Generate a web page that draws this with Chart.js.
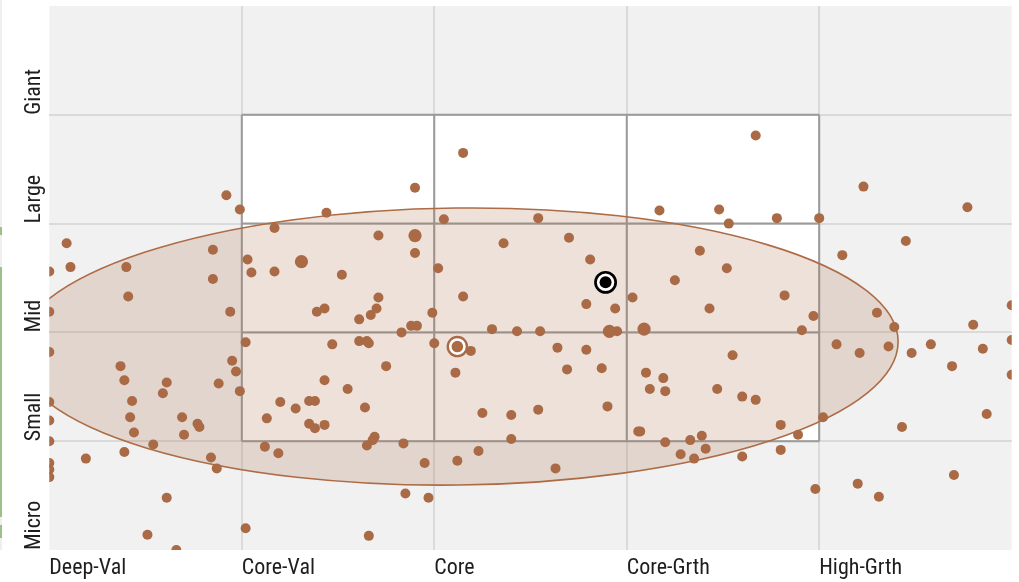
<!DOCTYPE html>
<html lang="en">
<head>
<meta charset="UTF-8">
<title>Ownership Zone</title>
<style>
  html, body { margin: 0; padding: 0; background: #fff; }
  #wrap { position: relative; width: 1019px; height: 582px; }
  .strip { position: absolute; left: 0; width: 2px; }
</style>
</head>
<body>
<div id="wrap">
  <canvas id="zone" width="1019" height="582"></canvas>
  <div class="strip" style="top:0;height:550px;background:#efefef"></div>
  <div class="strip" style="top:227px;height:8px;background:#9dc088"></div>
  <div class="strip" style="top:267px;height:250px;background:#9dc088"></div>
  <div class="strip" style="top:525px;height:13px;background:#9dc088"></div>
</div>

<script src="https://cdn.jsdelivr.net/npm/chart.js"></script>
<script>
// style (x) and size (y) bands, one unit per band
const styleLabels = ['Deep-Val', 'Core-Val', 'Core', 'Core-Grth', 'High-Grth'];
const sizeLabels = ['Micro', 'Small', 'Mid', 'Large', 'Giant'];

// holdings, [style, size]
const holdings = [
  [0.00,2.56],[0.09,2.82],[0.11,2.60],[0.40,2.60],[0.41,2.33],[0.85,2.76],[0.85,2.49],[0.92,3.26],
  [0.99,3.13],[0.00,2.19],[0.94,2.19],[0.00,1.82],[1.02,1.91],[0.37,1.69],[0.39,1.56],[0.61,1.54],
  [0.59,1.44],[0.95,1.74],[0.97,1.64],[0.88,1.53],[0.99,1.46],[0.00,1.36],[0.43,1.37],[0.42,1.22],
  [0.00,1.19],[0.69,1.22],[0.77,1.16],[0.78,1.13],[0.44,1.08],[0.70,1.06],[0.00,1.00],[0.54,0.97],
  [0.39,0.90],[0.19,0.84],[0.00,0.80],[0.00,0.74],[0.00,0.67],[0.84,0.85],[0.87,0.75],[0.61,0.48],
  [0.51,0.14],[0.66,0.00],[1.02,0.20],
  [1.17,2.96],[1.44,3.10],[1.90,3.33],[1.71,2.89],[1.90,2.73],[1.03,2.67],[1.05,2.55],[1.17,2.56],
  [1.52,2.53],[1.71,2.32],[1.39,2.19],[1.43,2.22],[1.61,2.12],[1.67,2.16],[1.70,2.22],[1.99,2.18],
  [1.83,2.00],[1.88,2.06],[1.91,2.06],[2.00,1.90],[1.61,1.92],[1.65,1.92],[1.66,1.90],[1.47,1.89],
  [1.75,1.69],[1.43,1.56],[1.55,1.48],[1.20,1.36],[1.28,1.30],[1.35,1.37],[1.38,1.37],[1.13,1.21],
  [1.64,1.31],[1.35,1.16],[1.38,1.12],[1.43,1.15],[1.69,1.04],[1.68,1.01],[1.65,0.96],[1.84,0.98],
  [1.12,0.95],[1.19,0.89],[1.95,0.80],[1.85,0.52],[1.97,0.48],[1.66,0.13],
  [2.15,3.65],[2.05,3.04],[2.54,3.05],[2.36,2.82],[2.70,2.87],[2.81,2.67],[2.02,2.59],[2.15,2.33],
  [2.79,2.26],[2.94,2.22],[2.30,2.03],[2.43,2.01],[2.55,2.01],[2.95,2.01],[2.19,1.83],[2.11,1.63],
  [2.64,1.86],[2.79,1.84],[2.69,1.66],[2.87,1.67],[2.90,1.32],[2.25,1.26],[2.40,1.24],[2.54,1.29],
  [2.40,1.02],[2.23,0.91],[2.12,0.82],[2.63,0.75],
  [3.67,3.81],[3.17,3.12],[3.48,3.13],[3.53,3.00],[3.78,3.05],[4.00,3.05],[3.38,2.75],[3.52,2.59],
  [3.25,2.48],[3.82,2.34],[3.03,2.32],[3.43,2.22],[3.97,2.15],[3.91,2.02],[3.55,1.79],[3.10,1.63],
  [3.19,1.58],[3.12,1.48],[3.20,1.46],[3.47,1.48],[3.60,1.41],[3.67,1.38],[3.80,1.15],[3.89,1.06],
  [3.06,1.09],[3.07,1.09],[3.20,0.99],[3.33,1.01],[3.39,1.05],[3.41,0.93],[3.28,0.88],[3.35,0.84],
  [3.60,0.86],[3.80,0.92],
  [4.23,3.34],[4.77,3.15],[4.45,2.84],[4.12,2.71],[4.30,2.18],[4.39,2.05],[4.09,1.89],[4.21,1.81],
  [4.36,1.87],[4.48,1.81],[4.58,1.89],[4.80,2.07],[4.85,1.85],[5.00,2.25],[5.00,1.93],[5.00,1.61],
  [4.69,1.69],[4.87,1.25],[4.43,1.13],[4.02,1.22],[4.70,0.69],[3.98,0.56],[4.20,0.61],[4.31,0.49]
];
// larger positions
const bigHoldings = [[1.90,2.89],[1.31,2.65],[2.91,2.01],[3.09,2.03]];

// fund centroid, target (black) marker, ownership zone
const fundCentroid = [2.12, 1.87];
const targetPoint = [2.89, 2.46];
const zoneRadius = [2.29, 1.273];
const zoneTilt = 0.012;

const BROWN = '#a96a45';
const FONT = "'Liberation Sans Narrow', 'Roboto Condensed', 'DejaVu Sans Condensed', sans-serif";

const toPts = arr => arr.map(p => ({ x: p[0], y: p[1] }));

const zonePlugin = {
  id: 'zone',
  beforeDraw(chart) {
    const { ctx, chartArea: a, scales: { x, y } } = chart;
    ctx.save();
    ctx.fillStyle = '#f1f1f1';
    ctx.fillRect(a.left, a.top, a.right - a.left, a.bottom - a.top);
    // white 3x3 style box
    const l = x.getPixelForValue(1), r = x.getPixelForValue(4);
    const t = y.getPixelForValue(4), b = y.getPixelForValue(1);
    ctx.fillStyle = '#ffffff';
    ctx.fillRect(l, t, r - l, b - t);
    ctx.restore();
  },
  beforeDatasetsDraw(chart) {
    const { ctx, chartArea: a, scales: { x, y } } = chart;
    ctx.save();
    // box lines
    ctx.strokeStyle = '#9b9b9b';
    ctx.lineWidth = 2;
    ctx.beginPath();
    for (let i = 1; i <= 4; i++) {
      const px = x.getPixelForValue(i);
      ctx.moveTo(px, y.getPixelForValue(4));
      ctx.lineTo(px, y.getPixelForValue(1));
      const py = y.getPixelForValue(i);
      ctx.moveTo(x.getPixelForValue(1), py);
      ctx.lineTo(x.getPixelForValue(4), py);
    }
    ctx.stroke();
    // ownership zone
    ctx.beginPath();
    ctx.rect(a.left, a.top, a.right - a.left, a.bottom - a.top);
    ctx.clip();
    const cx = x.getPixelForValue(fundCentroid[0]);
    const cy = y.getPixelForValue(fundCentroid[1]);
    const rx = x.getPixelForValue(fundCentroid[0] + zoneRadius[0]) - cx;
    const ry = cy - y.getPixelForValue(fundCentroid[1] + zoneRadius[1]);
    ctx.beginPath();
    ctx.ellipse(cx, cy, rx, ry, -zoneTilt, 0, Math.PI * 2);
    ctx.fillStyle = 'rgba(168,106,72,0.2)';
    ctx.fill();
    ctx.strokeStyle = '#ad6c46';
    ctx.lineWidth = 1.6;
    ctx.stroke();
    ctx.restore();
  }
};

const noPad = s => { s.paddingLeft = 0; s.paddingRight = 0; s.paddingTop = 0; s.paddingBottom = 0; };

new Chart(document.getElementById('zone'), {
  type: 'scatter',
  data: {
    datasets: [
      { data: toPts([targetPoint]), pointRadius: 6, backgroundColor: '#000', borderWidth: 0, order: 0 },
      { data: toPts([targetPoint]), pointRadius: 10.1, backgroundColor: '#fff', borderColor: '#000', borderWidth: 2.7, order: 1 },
      { data: toPts([fundCentroid]), pointRadius: 5.8, backgroundColor: BROWN, borderWidth: 0, order: 2 },
      { data: toPts([fundCentroid]), pointRadius: 9.6, backgroundColor: '#fff', borderColor: BROWN, borderWidth: 2.4, order: 3 },
      { data: toPts(bigHoldings), pointRadius: 6.6, backgroundColor: BROWN, borderWidth: 0, order: 4 },
      { data: toPts(holdings), pointRadius: 5, backgroundColor: BROWN, borderWidth: 0, order: 5 }
    ]
  },
  options: {
    responsive: false,
    animation: false,
    events: [],
    devicePixelRatio: 1,
    layout: { autoPadding: false, padding: { left: 23, right: 7.3, top: 6, bottom: 0 } },
    plugins: { legend: { display: false }, tooltip: { enabled: false } },
    elements: { point: { pointStyle: 'circle' } },
    scales: {
      x: {
        type: 'linear', min: 0, max: 5,
        border: { display: false },
        afterFit: s => { s.height = 32; noPad(s); },
        grid: {
          drawTicks: false, lineWidth: 2,
          color: c => (c.tick && c.tick.value > 0 && c.tick.value < 5) ? '#dadada' : 'rgba(0,0,0,0)'
        },
        ticks: {
          stepSize: 1, autoSkip: false, maxRotation: 0, align: 'start', padding: 5.6,
          color: '#1e1e1e', font: { family: FONT, size: 22 },
          callback: v => styleLabels[v] ?? ''
        }
      },
      y: {
        type: 'linear', min: 0, max: 5,
        border: { display: false },
        afterFit: s => { s.width = 26.3; noPad(s); },
        grid: {
          drawTicks: false, lineWidth: 2,
          color: c => (c.tick && c.tick.value > 0 && c.tick.value < 5) ? '#dadada' : 'rgba(0,0,0,0)'
        },
        ticks: {
          stepSize: 1, autoSkip: false, minRotation: 90, maxRotation: 90,
          align: 'start', crossAlign: 'far', padding: 0,
          color: '#1e1e1e', font: { family: FONT, size: 22 },
          callback: v => sizeLabels[v] ?? ''
        }
      }
    }
  },
  plugins: [zonePlugin]
});
</script>
</body>
</html>
